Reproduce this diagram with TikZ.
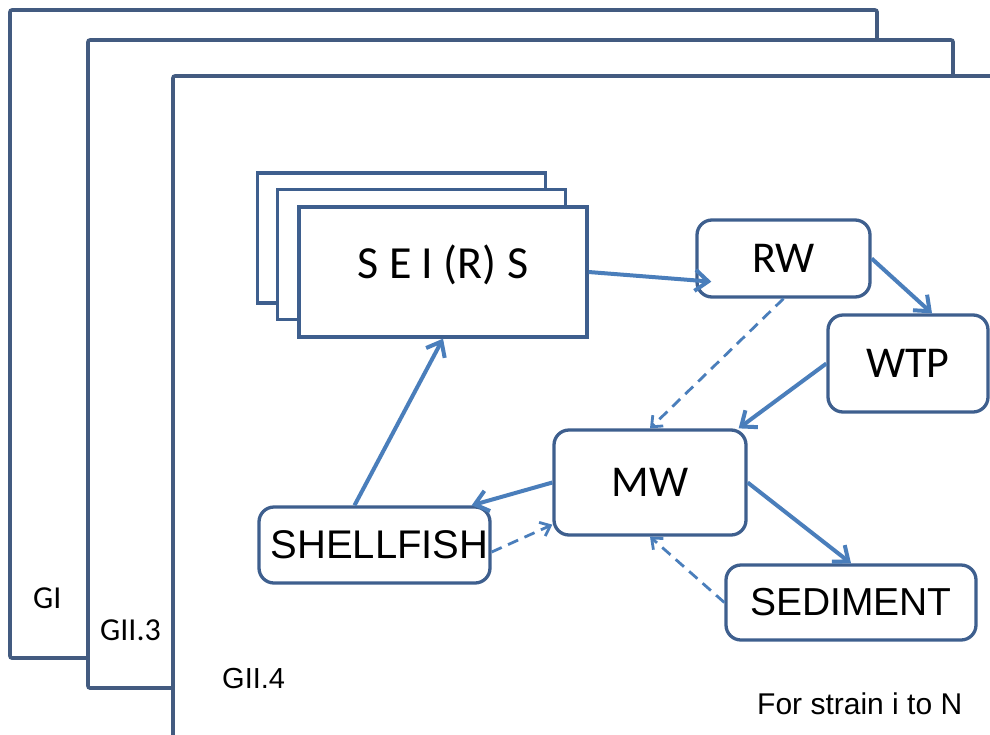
\documentclass[tikz,border=0pt]{standalone}
\usepackage{fontspec}
\setmainfont{Carlito}
\newfontfamily\arialf{Liberation Sans}
\usetikzlibrary{arrows.meta,calc}
\definecolor{framec}{HTML}{435B80}
\definecolor{boxc}{HTML}{3E5F8E}
\definecolor{arrc}{HTML}{4A7EBB}
\begin{document}
\begin{tikzpicture}[x=1pt,y=-1pt,
  gframe/.style={draw=framec, line width=3.6pt, fill=white, rounded corners=2pt},
  sbox/.style={draw=boxc, line width=3.3pt, fill=white, minimum width=288pt, minimum height=130pt, inner sep=0pt},
  rbox/.style={draw=boxc, line width=3.3pt, fill=white, rounded corners=15pt, inner sep=0pt, font=\fontsize{44}{48}\selectfont},
  arr/.style={draw=arrc, line width=4pt, -{Straight Barb[length=13pt,width=21pt]}},
  darr/.style={draw=arrc, line width=2.8pt, dash pattern=on 11pt off 7pt, -{Straight Barb[length=9pt,width=15pt]}},
  lbl/.style={inner sep=0pt, anchor=base west}]
\useasboundingbox (0,0) rectangle (990,734);
\fill[white] (0,0) rectangle (990,734);
% strain frames
\draw[gframe] (10,10) rectangle (877,658);
\draw[gframe] (88,40) rectangle (953,688);
\begin{scope}
  \clip (0,0) rectangle (990,734);
  \draw[gframe] (173,76) rectangle (1010,760);
\end{scope}
% frame labels
\node[lbl, font=\fontsize{32}{36}\selectfont] (gi) at (33,608) {GI};
\node[lbl, font=\fontsize{32}{36}\selectfont] (gii3) at (100,640) {GII.3};
\node[lbl, font=\arialf\fontsize{29}{32}\selectfont] (gii4) at (222,688) {GII.4};
\node[lbl, font=\arialf\fontsize{30}{34}\selectfont] (strain) at (757,714) {For strain i to N};
% SEIRS stack
\node[sbox] (seirsA) at (401.5,238) {};
\node[sbox] (seirsB) at (421.5,254.5) {};
\node[sbox, font=\fontsize{46}{50}\selectfont] (seirs) at (443,272) {\raisebox{-6pt}[0pt][0pt]{S E I (R) S}};
% compartments
\node[rbox, minimum width=173pt, minimum height=77pt] (rw) at (783.5,258.5) {RW};
\node[rbox, minimum width=160pt, minimum height=97pt] (wtp) at (908,363.5) {WTP};
\node[rbox, minimum width=192pt, minimum height=105pt] (mw) at (650,482.5) {MW};
\node[rbox, minimum width=231pt, minimum height=76pt, font=\arialf\fontsize{40}{44}\selectfont] (shell) at (374.5,545) {\hspace*{10pt}SHELLFISH};
\node[rbox, minimum width=250pt, minimum height=75pt, font=\arialf\fontsize{39}{42}\selectfont] (sed) at (851,602.5) {SEDIMENT};
% connectors
\draw[arr] (seirs.east) -- ($(rw.south west)+(16,-17)$);
\draw[arr] (rw.east) -- ($(wtp.north)+(24,0)$);
\draw[arr] (wtp.west) -- ($(mw.north east)+(-9,0)$);
\draw[darr] (rw.south) -- (mw.north);
\draw[arr] (mw.west) -- ($(shell.north east)+(-20,0)$);
\draw[arr] ($(shell.north)+(-20,0)$) -- (seirs.south);
\draw[darr] ($(shell.east)+(0,7)$) -- ($(mw.south west)+(0,-12)$);
\draw[arr] (mw.east) -- (sed.north);
\draw[darr] (sed.west) -- (mw.south);
\end{tikzpicture}
\end{document}
